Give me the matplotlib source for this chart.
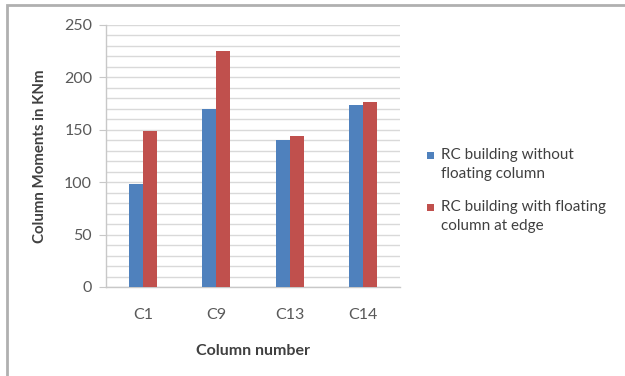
import matplotlib
matplotlib.use("Agg")
import matplotlib.pyplot as plt
import numpy as np
from matplotlib.patches import Rectangle
from matplotlib.ticker import MultipleLocator

categories = ["C1", "C9", "C13", "C14"]
series_names = ["RC building without\nfloating column",
                "RC building with floating\ncolumn at edge"]
without_floating = [98, 170, 140, 174]
with_floating = [149, 225, 144, 177]
colors = ["#4F81BD", "#C0504D"]

plt.rcParams['font.family'] = ['Lato', 'DejaVu Sans']

fig = plt.figure(figsize=(6.25, 3.76), dpi=100)
# outer frame (only top/left visible in reference)
fig.patches.append(Rectangle((7/625, -0.1), 1.2, 1 - 5/376 + 0.1, transform=fig.transFigure,
                             fill=False, edgecolor="#b0b0b0", linewidth=2, zorder=0))

ax = fig.add_axes([106/625, 1 - 287/376, 294/625, (287 - 25)/376])
x = np.arange(len(categories))
w = 0.19
for i, (vals, c) in enumerate(zip([without_floating, with_floating], colors)):
    ax.bar(x + (i - 0.5) * w, vals, width=w, color=c, zorder=3)

ax.set_xlim(-0.5, len(categories) - 0.5)
ax.set_ylim(0, 250)
ax.yaxis.set_major_locator(MultipleLocator(50))
ax.yaxis.set_minor_locator(MultipleLocator(10))
ax.grid(True, which="both", axis="y", color="#d9d9d9", linewidth=1.0, zorder=0)
ax.set_axisbelow(True)
for s in ["top", "right"]:
    ax.spines[s].set_visible(False)
ax.spines["left"].set_color("#c8c8c8")
ax.spines["bottom"].set_color("#c8c8c8")
ax.spines["left"].set_linewidth(1.0)
ax.spines["bottom"].set_linewidth(1.0)
ax.tick_params(axis="y", which="major", length=5, color="#c8c8c8", labelsize=11.5,
               labelcolor="#595959", pad=5)
ax.tick_params(axis="y", which="minor", length=0)
ax.tick_params(axis="x", length=0, labelsize=11.5, labelcolor="#595959", pad=15)
ax.set_xticks(x)
ax.set_xticklabels(categories)

ax.set_xlabel("Column number", fontsize=11.5, fontweight="bold", color="#404040", labelpad=16)
ax.set_ylabel("Column Moments in KNm", fontsize=10.8, fontweight="bold", color="#404040", labelpad=12)

# legend drawn manually
leg_y = [155, 207]
for name, c, yy in zip(series_names, colors, leg_y):
    fig.patches.append(Rectangle((427/625, 1 - (yy + 3.5)/376), 7/625, 7/376,
                                 transform=fig.transFigure, facecolor=c, edgecolor="none"))
    fig.text(441/625, 1 - (yy - 7)/376, name, fontsize=11, color="#404040",
             va="top", ha="left", linespacing=1.45)

fig.savefig("out.png", dpi=100)
